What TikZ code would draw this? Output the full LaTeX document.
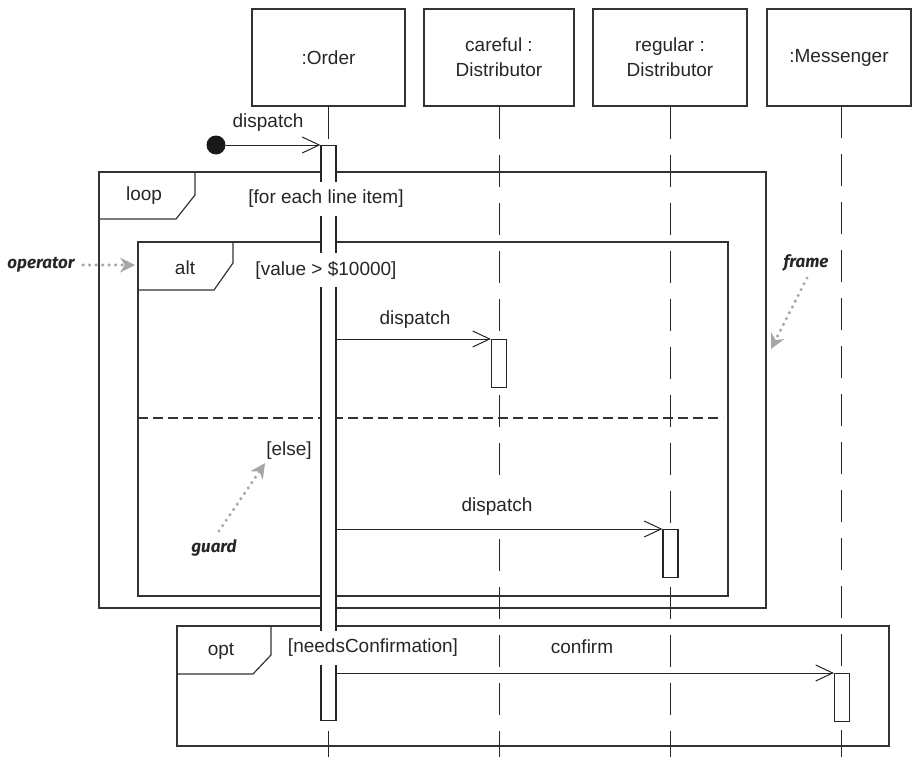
\documentclass[tikz,border=0pt]{standalone}
\usepackage{fontspec}
\setmainfont{Liberation Sans}
\newfontfamily\notefont{Fira Sans}
\usetikzlibrary{arrows.meta}
\begin{document}
\begin{tikzpicture}[x=1pt,y=-1pt,
  every node/.style={font=\fontsize{19}{25}\selectfont, text=black!85},
  hdr/.style={draw=black!80, line width=1.1pt, minimum height=97, align=center, inner sep=0},
  lifel/.style={draw=black!85, line width=1pt, dash pattern=on 32pt off 16pt},
  act/.style={draw=black!85, fill=white, line width=1.3pt, minimum width=15, inner sep=0, anchor=north},
  frm/.style={draw=black!80, line width=1.2pt},
  lbl/.style={fill=white, inner xsep=2pt, minimum height=34},
  msg/.style={draw=black!85, line width=1pt, -{Straight Barb[length=17pt,width=16pt,line width=1pt]}},
  startdot/.style={circle, fill=black!90, minimum size=19, inner sep=0},
  note/.style={font=\notefont\bfseries\itshape\fontsize{17}{20}\selectfont, text=black!85},
  notearr/.style={draw=black!35, line width=3.4pt, line cap=round, dash pattern=on 0pt off 6.5pt, -{Stealth[length=15pt,width=15pt,line width=0pt]}},
]
\useasboundingbox (0,0) rectangle (912,757);

% headers
\node[hdr, minimum width=153] (ord) at (328.5,57.5) {:Order};
\node[hdr, minimum width=150] (car) at (499,57.5) {careful :\\Distributor};
\node[hdr, minimum width=154] (reg) at (670,57.5) {regular :\\Distributor};
\node[hdr, minimum width=144] (mes) at (839,57.5) {:Messenger};

% lifelines
\coordinate (ordE) at (328.5,757);
\coordinate (carE) at (499,757);
\coordinate (regE) at (670,757);
\coordinate (mesT) at (841,106);
\coordinate (mesE) at (841,757);
\draw[lifel] (ord.south) -- (ordE);
\draw[lifel] (car.south) -- (carE);
\draw[lifel] (reg.south) -- (regE);
\draw[lifel] (mesT) -- (mesE);

% frames
\draw[frm] (99,172) rectangle (766,608);
\draw[frm] (195,172) -- (195,195) -- (176,219) -- (99,219);
\node (loopl) at (144,196) {loop};
\draw[frm] (138,242) rectangle (728,596);
\draw[frm] (233,242) -- (233,263) -- (214,290) -- (138,290);
\node (altl) at (185,268) {alt};
\draw[frm, dash pattern=on 10pt off 5pt] (138,418) -- (723,418);
\draw[frm] (177,626) rectangle (889,746);
\draw[frm] (271,626) -- (271,655) -- (253,674) -- (177,674);
\node (optl) at (221,651) {opt};

% activation bars
\node[act, minimum height=575] (ordbar) at (328.5,145) {};
\node[act, minimum height=48] (carbar) at (499,339) {};
\node[act, minimum height=48] (regbar) at (670.5,529) {};
\node[act, minimum height=48] (mesbar) at (842,673) {};

% guards
\node[lbl] (g1) at (326,199) {[for each line item]};
\node[lbl] (g2) at (326,270) {[value > \$10000]};
\node[lbl] (g3) at (289,451) {[else]};
\node[lbl] (g4) at (373,648) {[needsConfirmation]};

% messages
\node[startdot] (start) at (216,145) {};
\draw[msg] (start) -- (ordbar.north west);
\node (m0) at (268,123) {dispatch};
\draw[msg] (ordbar.east |- carbar.north) -- (carbar.north west);
\node (m1) at (415,320) {dispatch};
\draw[msg] (ordbar.east |- regbar.north) -- (regbar.north west);
\node[lbl] (m2) at (497,507) {dispatch};
\draw[msg] (ordbar.east |- mesbar.north) -- (mesbar.north west);
\node (m3) at (582,647) {confirm};

% annotations
\node[note] (opn) at (41,265) {operator};
\coordinate (opT) at (135,265);
\draw[notearr, shorten <=5pt] (opn.east) -- (opT);
\node[note] (frn) at (806,263) {frame};
\coordinate (frS) at (807,278);
\coordinate (frT) at (771,349);
\draw[notearr] (frS) -- (frT);
\node[note] (gun) at (214,548) {guard};
\coordinate (guS) at (219,531);
\coordinate (guT) at (265,463);
\draw[notearr] (guS) -- (guT);
\end{tikzpicture}
\end{document}
